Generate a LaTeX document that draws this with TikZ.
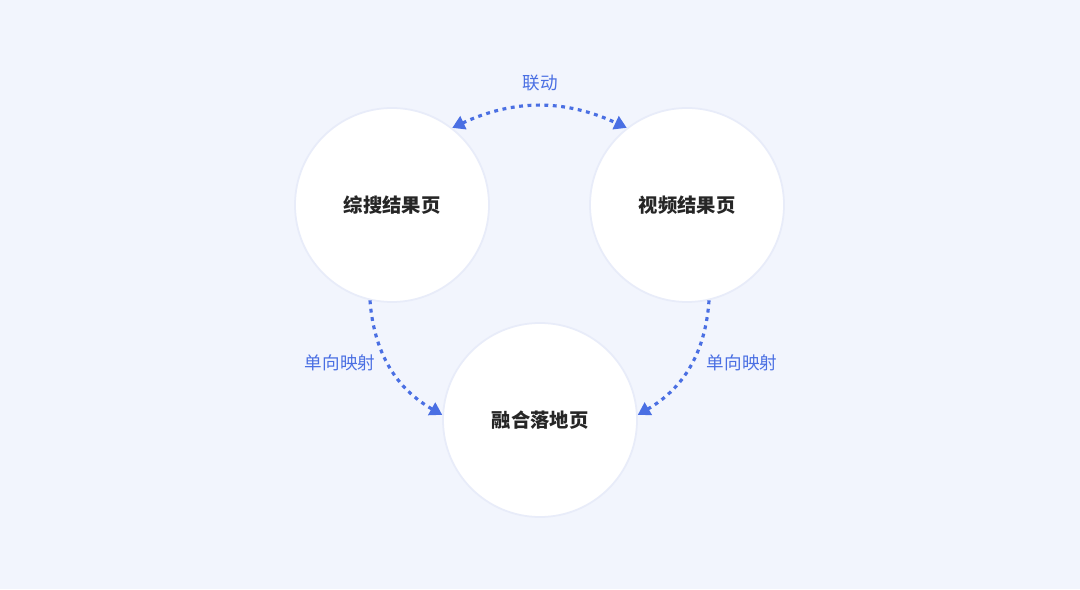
\documentclass[tikz,border=0pt]{standalone}
\usepackage{fontspec}
\newfontfamily\cjk{Noto Sans CJK SC}
\usetikzlibrary{positioning,arrows.meta}
\definecolor{bgblue}{HTML}{F2F5FD}
\definecolor{linkblue}{HTML}{4A6FE3}
\definecolor{rimblue}{HTML}{E8ECF9}
\tikzset{
page/.style={circle, fill=white, draw=rimblue, line width=1pt, minimum size=3.88cm, font=\cjk\bfseries\fontsize{11}{13}\selectfont, text=black!85},
link/.style={draw=linkblue, line width=1.8pt, dash pattern=on 2.2pt off 2.6pt, -{Triangle[length=7pt,width=8pt]}},
tag/.style={font=\cjk\fontsize{10}{12}\selectfont, text=linkblue}
}
\begin{document}
\begin{tikzpicture}
\fill[bgblue] (0,0) rectangle (21.6,11.78);
\useasboundingbox (0,0) rectangle (21.6,11.78);
\node[page] (zs) at (7.84,7.68) {综搜结果页};
\node[page] (sp) at (13.74,7.68) {视频结果页};
\node[page] (rh) at (10.8,3.38) {融合落地页};

\draw[link, {Triangle[length=7pt,width=8pt]}-{Triangle[length=7pt,width=8pt]}] (zs.52) to[bend left=25] (sp.128);
\draw[link] (zs.257) to[bend right=28] (rh.177);
\draw[link] (sp.283) to[bend left=28] (rh.3);

\node[tag] (ld) at (10.8,10.12) {联动};
\node[tag] (ys1) at (6.8,4.52) {单向映射};
\node[tag] (ys2) at (14.84,4.52) {单向映射};
\end{tikzpicture}
\end{document}
